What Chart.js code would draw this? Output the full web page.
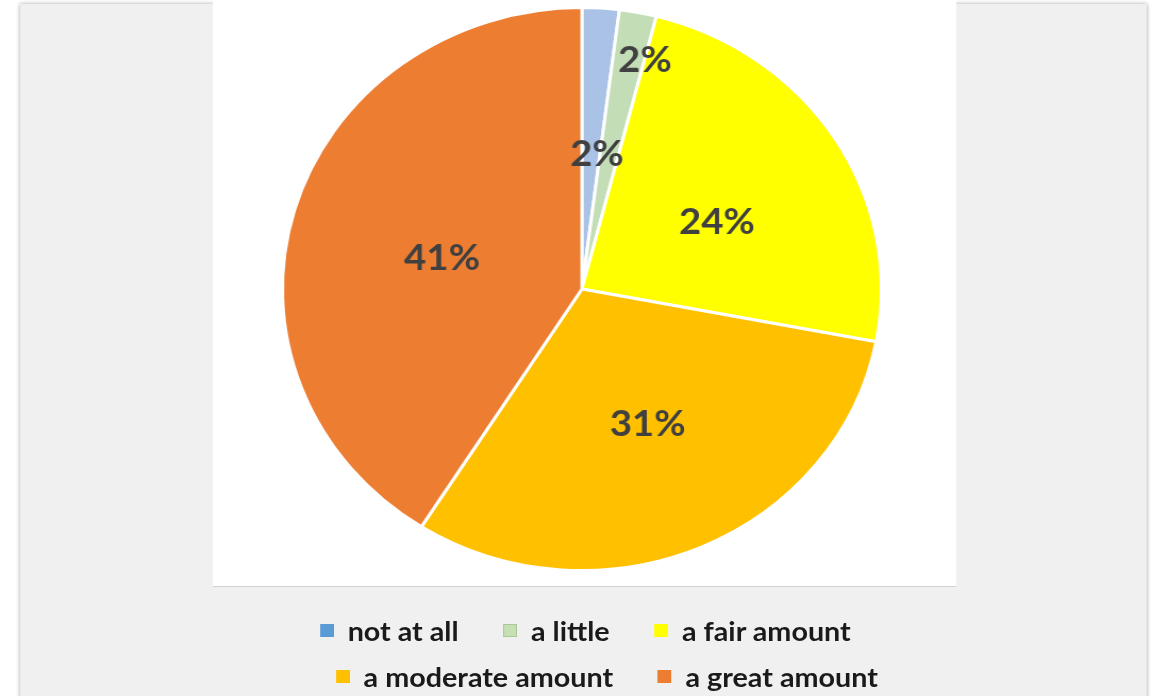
<!DOCTYPE html>
<html>
<head>
<meta charset="utf-8">
<script src="https://cdn.jsdelivr.net/npm/chart.js@4.4.1/dist/chart.umd.min.js"></script>
<style>
  html, body { margin: 0; padding: 0; background: #ffffff; overflow: hidden; }
  #stage { position: absolute; left: 0; top: 0; width: 1088px; height: 696px;
           transform: scaleX(1.0638); transform-origin: 0 0; }
  #grayPanel { position: absolute; left: 18.8px; top: 4px; width: 1059.2px; height: 720px;
               background: #f0f0f0; box-shadow: 0 0 4px rgba(0,0,0,0.35); }
  #whitePanel { position: absolute; left: 200.2px; top: 0; width: 699.2px; height: 586px;
                background: #ffffff; border-bottom: 1.5px solid #d2d2d2; }
  #chartBox { position: absolute; left: 0; top: 0; width: 1088px; height: 696px; }
  .legendRow { position: absolute; display: flex; align-items: center; white-space: nowrap;
               font-family: Lato, "Noto Sans", sans-serif; font-weight: bold; font-size: 27px;
               color: #1a1a1a; }
  .legendItem { display: flex; align-items: center; margin-right: 42px; }
  .legendBox { width: 13px; height: 13px; margin-right: 13px; box-sizing: border-box; }
</style>
</head>
<body>
<div id="stage">
  <div id="grayPanel"></div>
  <div id="whitePanel"></div>
  <div id="chartBox"><canvas id="c"></canvas></div>
  <div id="legendRow1" class="legendRow" style="left:300.8px; top:614px;"></div>
  <div id="legendRow2" class="legendRow" style="left:315.8px; top:660px;"></div>
</div>
<script>
// ---- data ----
const categories = ["not at all", "a little", "a fair amount", "a moderate amount", "a great amount"];
const percentValues = [2, 2, 24, 31, 41];
const percentLabels = ["2%", "2%", "24%", "31%", "41%"];

// ---- style ----
const sliceColors = ["#a9c2e6", "#c3ddb7", "#ffff00", "#ffc000", "#ed7d31"];
const legendColors = ["#5b9bd5", "#c6e0b4", "#ffff00", "#ffc000", "#ed7d31"];
const labelRadiusFrac = [0.48, 0.84, 0.51, 0.53, 0.48];
const labelAngleNudgeDeg = [2.4, 3.7, 4.6, -1.1, -2.9];
const legendRows = [[0, 1, 2], [3, 4]];

const pieLabels = {
  id: 'pieLabels',
  afterDatasetsDraw(chart) {
    const ctx = chart.ctx;
    const meta = chart.getDatasetMeta(0);
    ctx.save();
    ctx.font = 'bold 36px Lato, "Noto Sans", sans-serif';
    ctx.fillStyle = '#404040';
    ctx.textAlign = 'center';
    ctx.textBaseline = 'middle';
    meta.data.forEach((arc, i) => {
      const p = arc.getProps(['x', 'y', 'startAngle', 'endAngle', 'outerRadius'], true);
      const a = (p.startAngle + p.endAngle) / 2 + labelAngleNudgeDeg[i] * Math.PI / 180;
      const r = p.outerRadius * labelRadiusFrac[i];
      ctx.fillText(percentLabels[i], p.x + r * Math.cos(a), p.y + r * Math.sin(a));
    });
    ctx.restore();
  }
};

new Chart(document.getElementById('c'), {
  type: 'pie',
  data: {
    labels: categories,
    datasets: [{
      data: percentValues,
      backgroundColor: sliceColors,
      borderColor: '#ffffff',
      borderWidth: 3
    }]
  },
  options: {
    responsive: true,
    maintainAspectRatio: false,
    animation: false,
    layout: { padding: { left: 264, right: 258, top: 6, bottom: 124 } },
    plugins: {
      legend: { display: false },
      tooltip: { enabled: false }
    }
  },
  plugins: [pieLabels]
});

// legend built from the same arrays
legendRows.forEach((row, ri) => {
  const el = document.getElementById('legendRow' + (ri + 1));
  row.forEach(i => {
    const item = document.createElement('div');
    item.className = 'legendItem';
    const box = document.createElement('div');
    box.className = 'legendBox';
    box.style.background = legendColors[i];
    if (i === 1) box.style.border = '1px solid #a9c99a';
    const txt = document.createElement('span');
    txt.textContent = categories[i];
    item.appendChild(box);
    item.appendChild(txt);
    el.appendChild(item);
  });
});
</script>
</body>
</html>
